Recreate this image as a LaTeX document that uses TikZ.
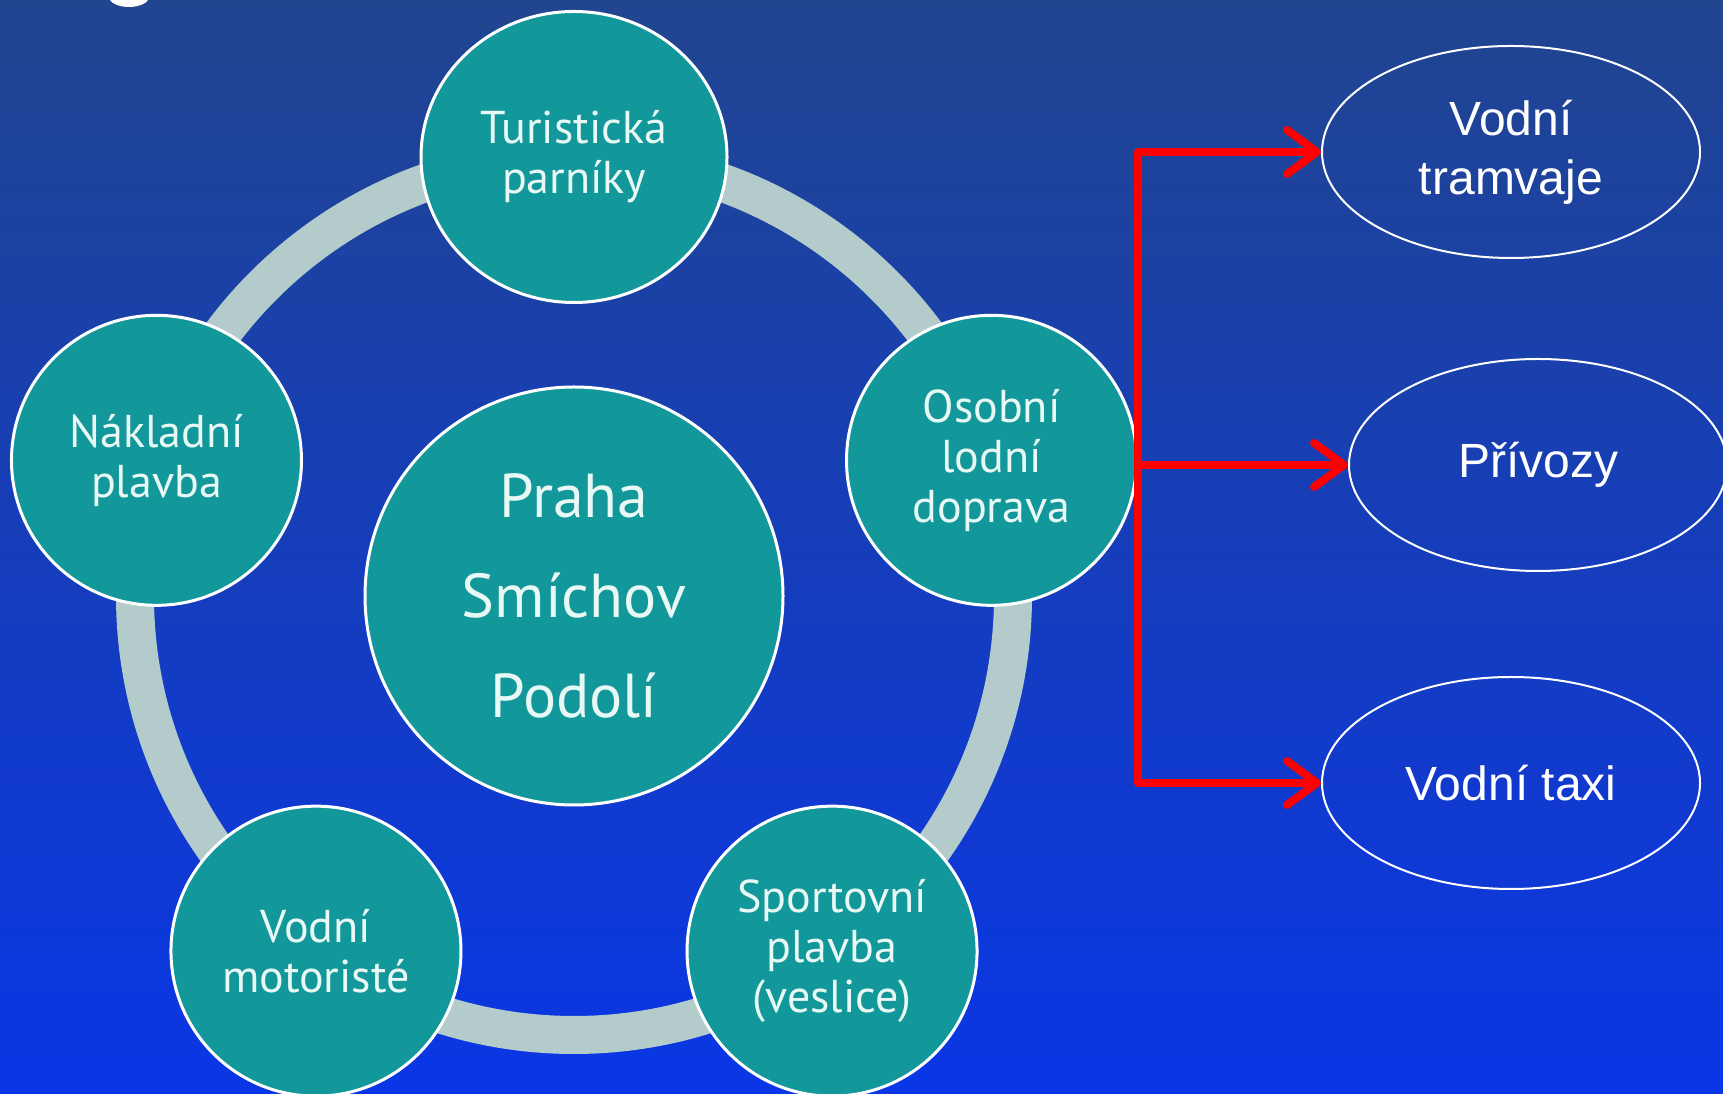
\documentclass[tikz,border=0pt]{standalone}
\usepackage{fontspec}
\setmainfont{PT Sans}
\newfontfamily\ellfont{Liberation Sans}
\usepackage{tikz}
\usetikzlibrary{arrows.meta,positioning,shapes.geometric}
\definecolor{slideTop}{HTML}{21458F}
\definecolor{slideBottom}{HTML}{0A36E6}
\definecolor{ringGrey}{HTML}{B3CBCB}
\definecolor{hubTeal}{HTML}{12989A}
\definecolor{hubText}{HTML}{E8F8F4}

\begin{document}
\begin{tikzpicture}[
  x=1pt, y=1pt,
  every node/.style={align=center, text=hubText, inner sep=0pt},
  sat/.style={circle, fill=hubTeal, draw=white, line width=3pt, minimum size=290pt, font=\fontsize{46}{50}\selectfont},
  hub/.style={sat, minimum size=418pt, font=\fontsize{62}{100}\selectfont},
  kind/.style={ellipse, draw=white, line width=2pt, minimum width=378pt, minimum height=212pt, text=white, font=\ellfont\fontsize{48}{59}\selectfont},
  link/.style={draw=red, line width=8pt, line join=round, -{Straight Barb[length=30pt, width=44pt, line cap=round, line join=round]}},
]
  \useasboundingbox (0,0) rectangle (1723,1094);
  \shade[top color=slideTop, bottom color=slideBottom] (0,0) rectangle (1723,1094);
  \fill[white] (129,1097) ellipse [x radius=20, y radius=10];

  \coordinate (mid) at (574,498);
  \draw[ringGrey, line width=38pt] (mid) circle[radius=439];

  \node[hub] (hub) at (mid) {Praha\\Smíchov\\Podolí};
  \node[sat, ellipse, minimum width=306pt, minimum height=291pt] (turist) at ([shift={(90:439)}]mid) {Turistická\\parníky};
  \node[sat] (osobni) at ([shift={(18:439)}]mid) {Osobní\\lodní\\doprava};
  \node[sat] (sport) at ([shift={(-54:439)}]mid) {Sportovní\\plavba\\(veslice)};
  \node[sat] (motor) at ([shift={(-126:439)}]mid) {Vodní\\motoristé};
  \node[sat] (naklad) at ([shift={(162:439)}]mid) {Nákladní\\plavba};

  \node[kind] (tramvaje) at (1511,942) {Vodní\\tramvaje};
  \node[kind] (privozy) at (1538,629) {Přívozy};
  \node[kind] (taxi) at (1511,311) {Vodní taxi};

  \coordinate (fork) at (osobni.east |- privozy.west);
  \foreach \k in {tramvaje,privozy,taxi}\draw[link] (fork) |- (\k.west);
\end{tikzpicture}
\end{document}
